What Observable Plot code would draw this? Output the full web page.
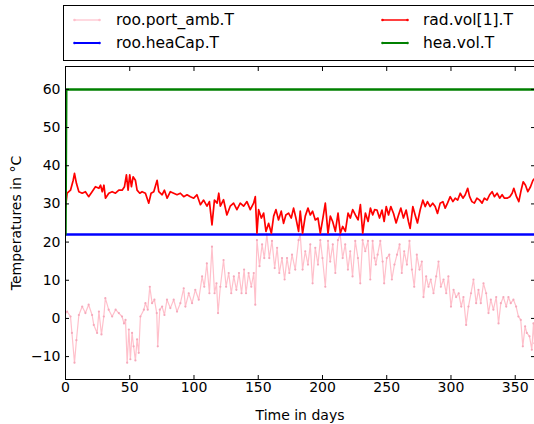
<!DOCTYPE html>
<html><head><meta charset="utf-8">
<script src="https://cdn.jsdelivr.net/npm/d3@7"></script>
<script src="https://cdn.jsdelivr.net/npm/@observablehq/plot@0.6"></script>
<style>
html,body{margin:0;padding:0;background:#fff;overflow:hidden}
#wrap{position:relative;width:534px;height:424px;overflow:hidden;font-family:"DejaVu Sans",sans-serif;background:#fff}
#legendBox{position:absolute;left:63px;top:5px;width:490px;height:54px;border:1px solid #000;background:#fff}
.item{position:absolute;height:20px;display:flex;align-items:center;font-size:15.5px;color:#000;white-space:nowrap}
.sample{position:absolute;height:20px}
.tl text{font-size:14px}
</style></head><body><div id="wrap"></div><script>
// ---- data ----
const seriesNames = ["roo.port_amb.T", "roo.heaCap.T", "rad.vol[1].T", "hea.vol.T"];
const seriesColors = ["pink", "blue", "red", "green"];
const xTicks = [0, 50, 100, 150, 200, 250, 300, 350];
const yTicks = [-10, 0, 10, 20, 30, 40, 50, 60];

// roo.port_amb.T  [day, °C]
const ambient = [[0,1.5],[1.3,1.8],[3.9,0.5],[5,-3.8],[7,-11.6],[8.5,-5.7],[10.4,0.9],[13,3.1],[15.5,1.4],[18,3.6],[20.7,0.9],[22,-1.7],[24.6,-3.8],[26,1.8],[28,-4.2],[29.8,0.5],[31,5.3],[33.6,2.3],[36.3,0.5],[39,2.3],[41.5,1.4],[44,0.5],[45.5,-1.3],[46.7,-0.4],[48,-11.6],[49.3,-2.9],[50.5,-10.7],[51.8,-3.8],[53,-7.3],[54.4,-11],[55.7,-5.5],[57,-9],[58.3,0.5],[61,2.3],[62.2,4],[64,2.3],[65.6,8.3],[67.4,4],[69.2,4.9],[71,1.4],[71.8,-7.3],[73.4,2.3],[75.2,3.1],[77,0.9],[79,4.9],[81.6,2.7],[84.2,4.9],[86.8,1.8],[89.4,4],[92,7.9],[93.3,3.1],[95.9,6.6],[98.5,4],[101,7.5],[103.7,4.9],[106.3,11],[108,8.3],[110,14.4],[112,6.6],[114,18.8],[116,6.6],[117.5,9.2],[118.7,1.4],[120.5,8.3],[123,15.3],[125,8.3],[127,11.9],[129,6.6],[131,11],[133,7.5],[135,11.9],[137,6.6],[139,12.8],[140.5,6.6],[142.5,11.9],[144.6,8.3],[146.5,11.9],[147.7,3.6],[149,20.5],[151,13.7],[153,19.4],[154.7,15.8],[156.7,22],[158.6,15.8],[160.7,20.3],[162.8,13.2],[164.7,18.5],[166.4,11.9],[168.5,15.8],[170.5,10.2],[172.4,15.8],[174.2,11.9],[176.3,16.7],[178.8,12.8],[181.4,20.5],[182.7,22],[184.5,12.8],[186.6,17.6],[188.7,14.1],[190.5,19.4],[192.3,9.2],[194.4,18.5],[196.5,14.1],[198.3,20.5],[200,15.8],[202.2,8.3],[204.3,20.3],[206,14.9],[208,19.4],[210,11.9],[212,20.5],[213.8,22],[215.7,15.8],[217.7,19.4],[219.8,12.8],[221.6,17.6],[223.4,11],[225.5,20.3],[227.6,15.8],[229.4,9.2],[231.2,20.5],[233.3,17.6],[235.4,20.3],[237.2,10.2],[239,20.3],[240.5,15.8],[241.5,14.1],[242.9,16.7],[245,20.3],[246.8,14.9],[248,9.2],[250,15.8],[252,16.7],[254,10.2],[256,14.1],[258,16.7],[260,19.4],[261.7,11.9],[263.6,17.6],[265.7,14.1],[267.7,20.3],[269.6,12.8],[271.4,8.3],[273.4,16.7],[275.5,12.8],[277.3,14.9],[278.6,5.6],[280.7,11],[282.5,8.3],[284.3,10.2],[286.4,6.6],[288.5,11],[290.3,14.9],[292.1,8.3],[294.2,10.2],[296.3,6.6],[298,11],[300,3.1],[302,7.5],[304,5.6],[306,6.6],[308,3.1],[309.7,5.6],[311.8,-1.7],[313.6,3.1],[315.6,6.6],[317.5,10.2],[319.6,4],[321.4,7.5],[323.2,4],[325.3,9.2],[327.4,6.6],[329.2,1.4],[331,4.9],[333,2.3],[335.2,5.6],[337,-1.3],[338.8,4],[340.8,5.6],[343,3.1],[344.7,5.6],[346.5,4],[348.6,4.9],[350.7,3.1],[352.5,0.5],[354.3,-0.4],[355.9,-7.3],[357.7,-2.1],[359,-3.8],[361.1,-4.7],[362.9,-8.2],[364.2,-1.3],[365,-6.5]];

// roo.heaCap.T
const heaCap = [[0,22],[365,22]];

// rad.vol[1].T
const radiator = [[0,29],[1.3,32.8],[3.9,33.6],[6,36.2],[7,38],[8.5,35.4],[10.4,33.2],[13,32.8],[15.5,33.2],[18,31.9],[20.7,33.2],[23.3,34.5],[26,34.1],[27.3,34.9],[28.6,33.2],[29.9,34.9],[31.1,31.5],[33.7,32.8],[36.3,33.2],[38.9,32.8],[41.5,33.6],[44.1,33.6],[45.9,34.5],[47.4,37.6],[48.7,33.6],[50,37.6],[51.3,34.5],[52.6,37.1],[54.4,36.2],[55.7,33.6],[57.8,32.8],[59.6,33.2],[62.2,32.8],[64.8,30.2],[66.6,32.8],[68.7,33.2],[71.3,36.2],[72.6,33.2],[75.2,32.4],[77,33.6],[79.1,31.5],[81.6,33.2],[84.2,32.8],[86.8,32.4],[89.4,32.8],[92,31.9],[94.6,32.4],[97.2,31.9],[99.8,31.5],[102.3,32.4],[105,29.8],[107.5,31],[110.1,29.4],[112,30.6],[114,24.5],[115.9,31],[118,30.2],[119.3,32.8],[120.5,29.4],[123,31.1],[125.6,27.1],[128.2,29.4],[130.8,30.2],[133.4,28.5],[136,30.2],[138.6,29.4],[141.2,30.6],[143.8,28.5],[146.4,30.2],[147.7,31.9],[149,22.3],[150.3,28.5],[152.4,26.3],[154.2,27.6],[156,22.8],[158.1,24.9],[160.2,22.3],[162,26.8],[163.8,28.5],[165.8,25.8],[167.9,28.1],[169.7,24.9],[171.5,27.1],[173.6,27.6],[175.7,26.3],[177.5,28.9],[179.3,26.3],[181.4,22.8],[182.7,28.1],[184.5,22.3],[186.6,26.8],[188.7,28.9],[190.5,27.1],[192.3,28.1],[194.4,25.8],[196.5,26.3],[198.3,22.3],[200.1,25.8],[202.2,30.2],[204.3,22.3],[206.1,26.8],[207.9,25.4],[210,22.8],[212.1,27.6],[213.9,22.3],[215.7,24.1],[217.8,22.8],[219.9,27.6],[221.7,26.3],[223.5,28.5],[225.6,27.1],[227.7,25.8],[229.5,29.8],[231.3,22.3],[233.4,27.6],[235.5,25.4],[237.3,28.9],[239.1,27.1],[240.6,28.5],[242.4,28.4],[244.4,26.3],[246.3,28.4],[248,25.4],[249.6,29.3],[251.4,27.1],[253.2,29.3],[255.3,27.5],[257.3,25],[259.2,27.1],[261,28.9],[263,26.3],[265.1,28.4],[266.9,25.4],[268.2,23.6],[270.3,29.3],[272.1,27.1],[273.9,25],[276,28.4],[278.1,31],[279.9,29.3],[281.7,30.6],[283.8,29.3],[285.8,30.2],[287.7,29.3],[289.5,27.5],[291.6,30.2],[293.7,30.6],[295.5,28.9],[297.3,30.2],[299.4,31.9],[301.5,30.6],[303.3,31.5],[305.2,31],[307.2,32.8],[309.3,31.5],[311.1,32.4],[313,34.1],[314.5,31.9],[316.3,30.6],[318.2,30.2],[320.2,31.5],[322.3,31],[324.2,30.2],[326,31.5],[328.1,31],[330.1,32.4],[332,33.2],[333.8,31.9],[335.9,32.8],[337.9,31.5],[339.8,32.4],[341.6,31.5],[343.7,31.5],[345.8,31.9],[347.6,32.8],[348.9,34.1],[351,31.9],[352.8,30.6],[354.6,33.6],[356.2,35.8],[358,34.9],[359.8,33.2],[361.9,34.5],[363.8,36.2],[365,36.6]];

// hea.vol.T
const heater = [[0,22],[0.6,60],[365,60]];

// ---- chart ----
const X = d => d[0], Y = d => d[1];
const fmt = d => d < 0 ? "\u2212" + Math.abs(d) : String(d);
const chart = Plot.plot({
  width: 534, height: 424,
  marginLeft: 65, marginRight: 0, marginTop: 66, marginBottom: 45,
  style: {fontFamily: "DejaVu Sans, sans-serif", fontSize: "13.5px", background: "white", color: "black"},
  x: {domain: [0, 365]},
  y: {domain: [-16, 66]},
  marks: [
    Plot.line(ambient, {x: X, y: Y, stroke: seriesColors[0], strokeWidth: 1.2, clip: true}),
    Plot.dot(ambient, {x: X, y: Y, r: 1.1, fill: "#f5a9bb", stroke: "none", clip: true}),
    Plot.line(heaCap, {x: X, y: Y, stroke: seriesColors[1], strokeWidth: 2.5, clip: true}),
    Plot.line(radiator, {x: X, y: Y, stroke: seriesColors[2], strokeWidth: 1.7, clip: true}),
    Plot.line(heater, {x: X, y: Y, stroke: seriesColors[3], strokeWidth: 2.5, clip: true}),
    Plot.frame({stroke: "black", strokeWidth: 1}),
    Plot.axisX(xTicks, {anchor: "bottom", tickSize: -4, tickPadding: 7, tickFormat: fmt, fontSize: 14, label: "Time in days", labelAnchor: "center", labelOffset: 40, labelArrow: "none"}),
    Plot.axisX(xTicks, {anchor: "top", tickSize: -4, tickFormat: () => "", label: null}),
    Plot.axisY(yTicks, {anchor: "left", tickSize: -4, tickPadding: 9, tickFormat: fmt, fontSize: 14, label: "Temperatures in °C", labelAnchor: "center", labelOffset: 54, labelArrow: "none"}),
    Plot.axisY(yTicks, {anchor: "right", tickSize: -4, tickFormat: () => "", label: null})
  ]
});
const wrap = document.getElementById("wrap");
wrap.appendChild(chart);

// ---- legend (above the plot area) ----
const box = document.createElement("div");
box.id = "legendBox";
wrap.appendChild(box);
const pos = [[73, 116, 20], [73, 116, 43], [381, 423, 20], [381, 423, 43]];
seriesNames.forEach((name, i) => {
  const [lx, tx, cy] = pos[i];
  const s = document.createElementNS("http://www.w3.org/2000/svg", "svg");
  s.setAttribute("width", 28); s.setAttribute("height", 20);
  s.setAttribute("class", "sample");
  s.style.left = lx + "px"; s.style.top = (cy - 10) + "px";
  const w = (i === 0) ? 1.2 : (i === 2 ? 1.5 : 2);
  s.innerHTML = `<line x1="1" x2="27" y1="10" y2="10" stroke="${seriesColors[i]}" stroke-width="${w}"/>` +
    `<circle cx="1.5" cy="10" r="1.3" fill="${seriesColors[i]}"/><circle cx="26.5" cy="10" r="1.3" fill="${seriesColors[i]}"/>`;
  wrap.appendChild(s);
  const t = document.createElement("div");
  t.className = "item";
  t.style.left = tx + "px"; t.style.top = (cy - 10) + "px";
  t.textContent = name;
  wrap.appendChild(t);
});
</script></body></html>
